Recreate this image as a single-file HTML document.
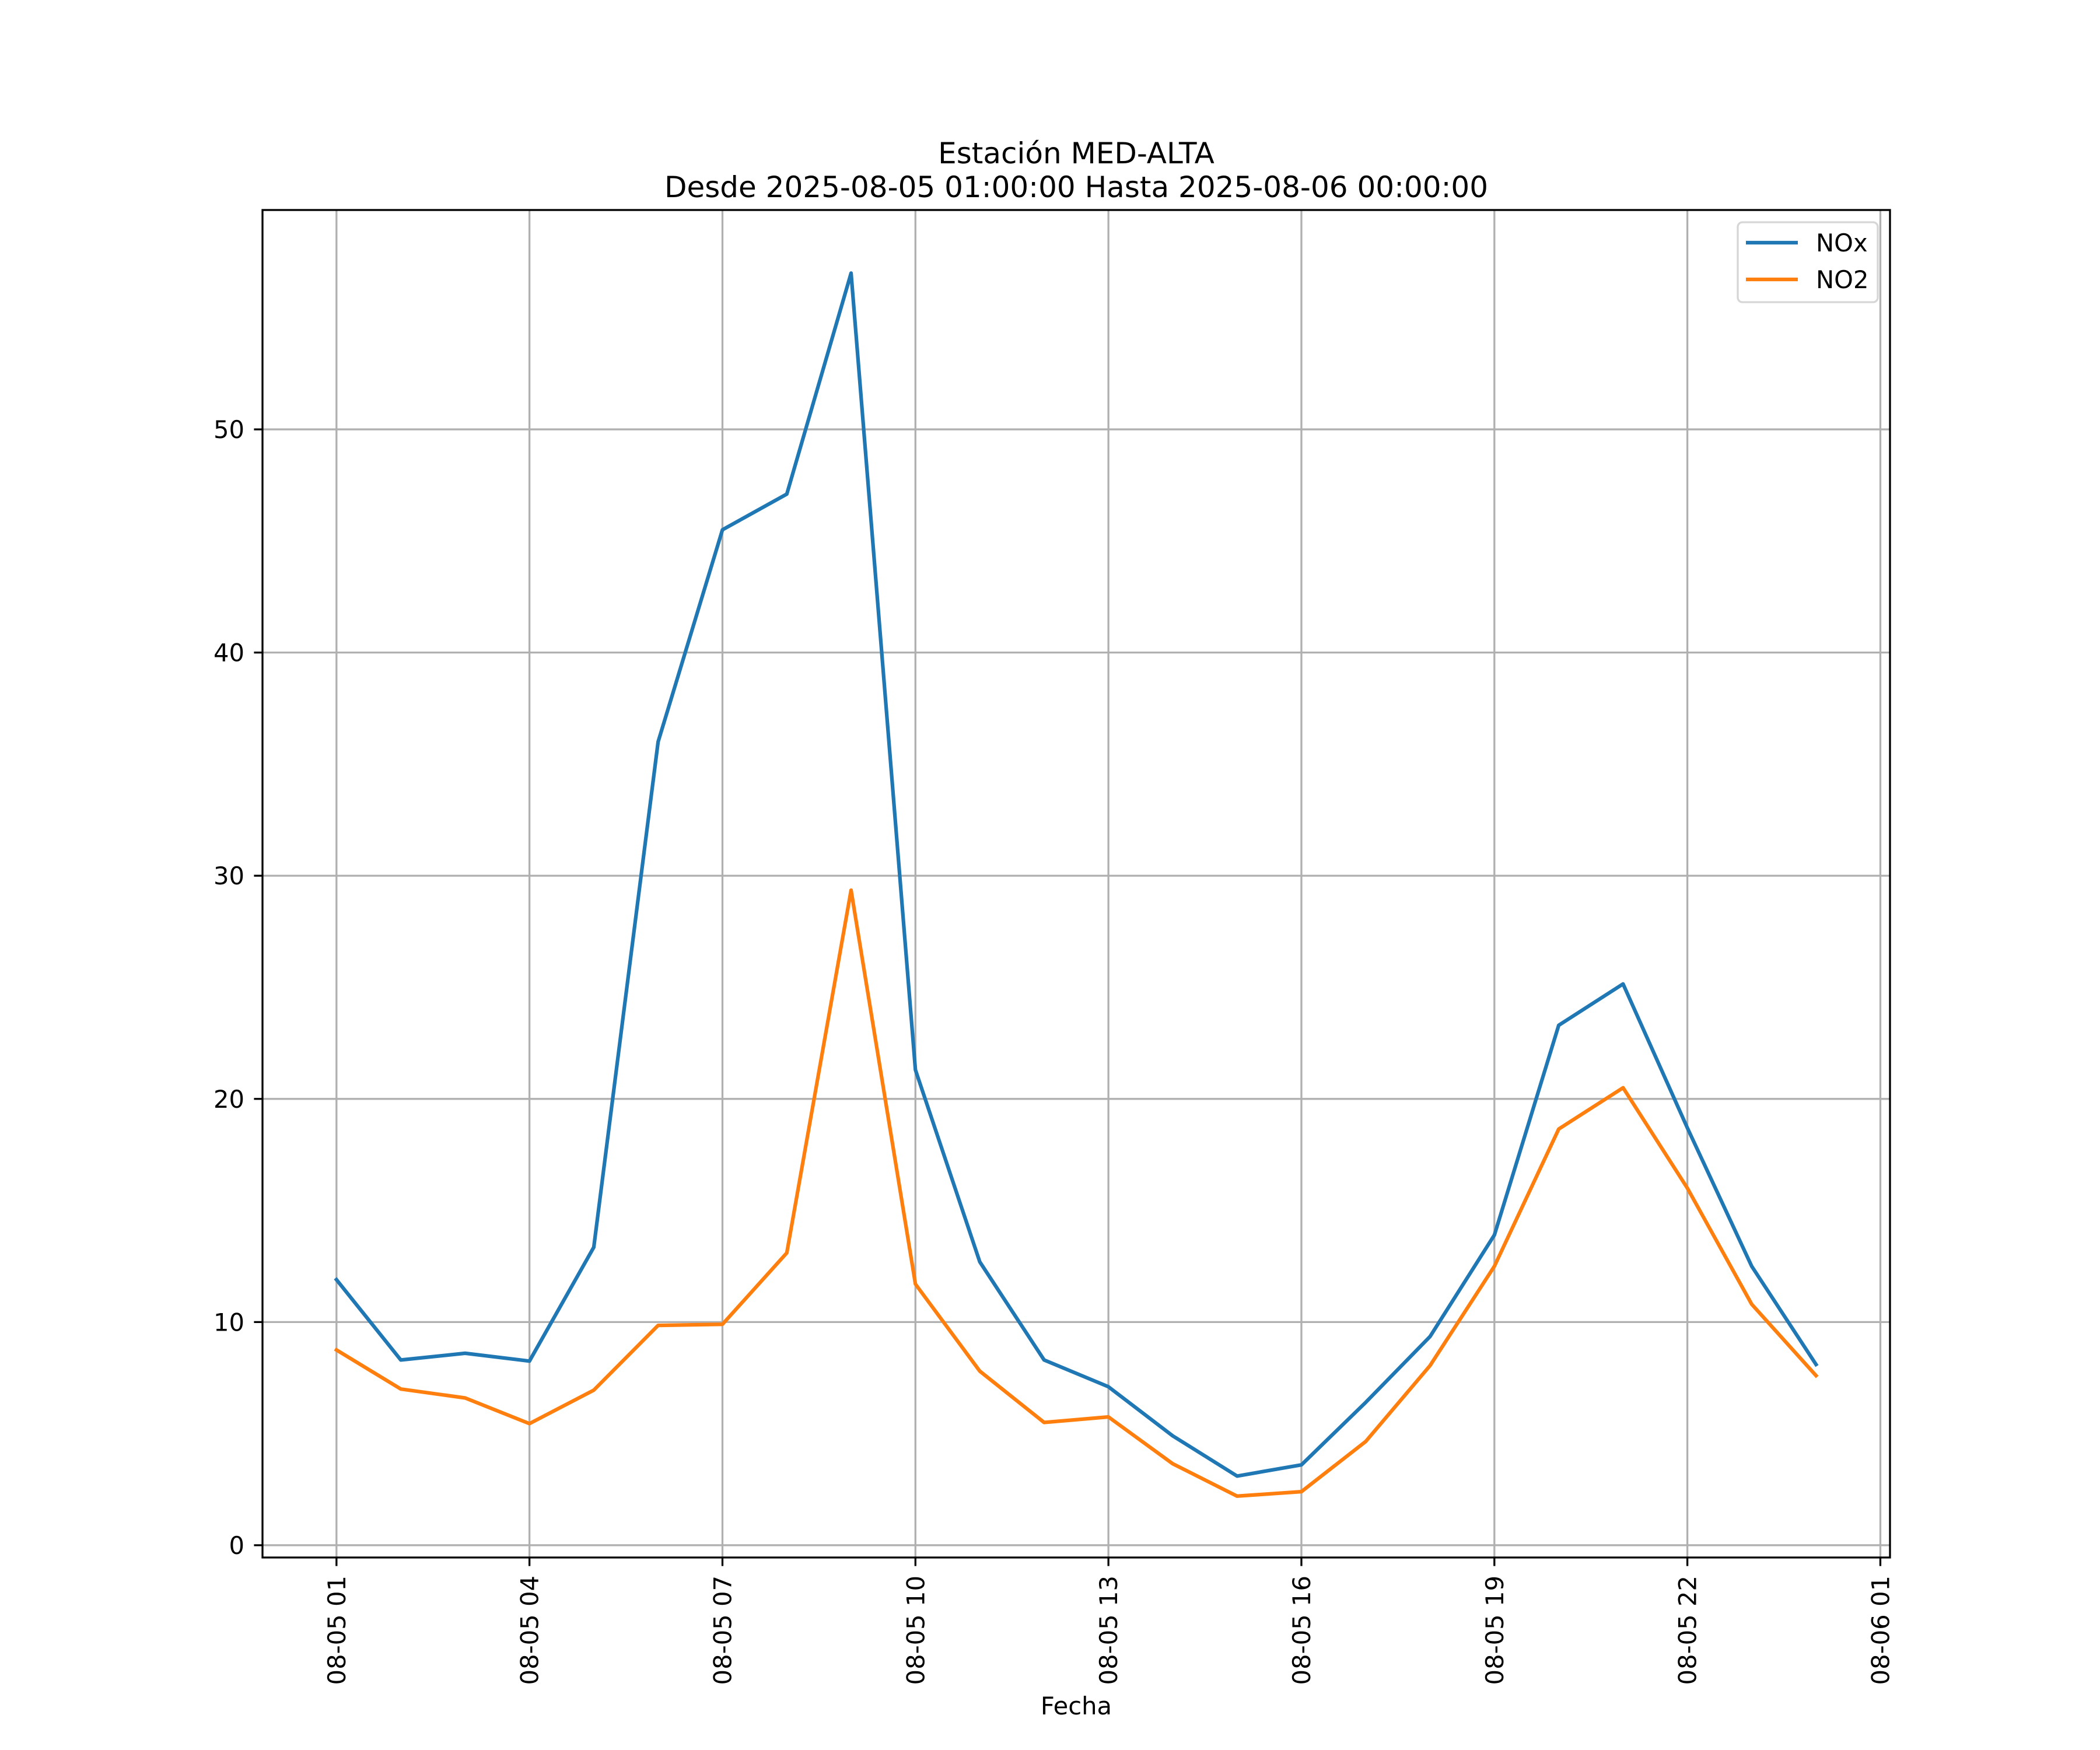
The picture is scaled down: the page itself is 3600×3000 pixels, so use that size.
<!DOCTYPE html>
<html><head><meta charset="utf-8"><style>
html,body{margin:0;padding:0;background:#fff}
svg{display:block}
text{font-family:"DejaVu Sans","Liberation Sans",sans-serif;fill:#000}
</style></head><body>
<svg id="chart" width="3600" height="3000" viewBox="0 0 3600 3000" xmlns="http://www.w3.org/2000/svg">
<rect x="0" y="0" width="3600" height="3000" fill="#fff"/>
<text x="1845" y="280" font-size="50" text-anchor="middle">Estación MED-ALTA</text>
<text x="1845" y="338" font-size="50" text-anchor="middle">Desde 2025-08-05 01:00:00 Hasta 2025-08-06 00:00:00</text>
<g id="grid"></g>
<g id="series"></g>
<rect x="450" y="360" width="2790" height="2310" fill="none" stroke="#000" stroke-width="3.3"/>
<g id="ticks"></g>
<text x="1845" y="2939" font-size="41.7" text-anchor="middle">Fecha</text>
<g>
<rect x="2979" y="381" width="240" height="137" rx="8" fill="#fff" fill-opacity="0.8" stroke="#d6d6d6" stroke-width="3.3"/>
<line x1="2993" y1="416" x2="3082" y2="416" stroke="#1f77b4" stroke-width="6.25"/>
<text x="3113" y="431" font-size="41.7">NOx</text>
<line x1="2993" y1="479" x2="3082" y2="479" stroke="#ff7f0e" stroke-width="6.25"/>
<text x="3113" y="494" font-size="41.7">NO2</text>
</g>
</svg>
<script>
const hours = [1,2,3,4,5,6,7,8,9,10,11,12,13,14,15,16,17,18,19,20,21,22,23,24];
const noxValues = [11.9,8.3,8.6,8.25,13.35,36.0,45.5,47.1,57.0,21.3,12.7,8.3,7.1,4.9,3.1,3.6,6.4,9.35,13.9,23.3,25.15,18.7,12.5,8.1];
const no2Values = [8.75,7.0,6.6,5.45,6.95,9.85,9.9,13.1,29.35,11.7,7.8,5.5,5.75,3.65,2.2,2.4,4.65,8.05,12.5,18.65,20.5,16.0,10.8,7.6];
const xTickHours = [1,4,7,10,13,16,19,22,25];
const xTickLabels = ["08-05 01","08-05 04","08-05 07","08-05 10","08-05 13","08-05 16","08-05 19","08-05 22","08-06 01"];
const yTickValues = [0,10,20,30,40,50];

const NS = "http://www.w3.org/2000/svg";
const L=450,R=3240,T=360,B=2670;
const xMin=-0.15, xMax=25.15, yMin=-0.55, yMax=59.83;
function xs(h){return L+(h-xMin)/(xMax-xMin)*(R-L);}
function ys(v){return B-(v-yMin)/(yMax-yMin)*(B-T);}
function mk(tag,attrs,parent){const e=document.createElementNS(NS,tag);for(const k in attrs)e.setAttribute(k,attrs[k]);parent.appendChild(e);return e;}
const grid=document.getElementById('grid'), ticks=document.getElementById('ticks'), series=document.getElementById('series');
xTickHours.forEach((h,i)=>{
  const x=xs(h);
  const g=mk('line',{x1:x,y1:T,x2:x,y2:B,stroke:'#b0b0b0','stroke-width':3.3},grid);
  
  
  const t=mk('line',{x1:x,y1:B,x2:x,y2:B+14.6,stroke:'#000','stroke-width':3.3},ticks);
  
  
  const lb=mk('text',{x:0,y:0,'font-size':41.7,'text-anchor':'end',transform:`translate(${x+15},${B+31}) rotate(-90)`},ticks);
  lb.textContent=xTickLabels[i];
  
  
});
yTickValues.forEach(v=>{
  const y=ys(v);
  const g=mk('line',{x1:L,y1:y,x2:R,y2:y,stroke:'#b0b0b0','stroke-width':3.3},grid);
  
  
  const t=mk('line',{x1:L-14.6,y1:y,x2:L,y2:y,stroke:'#000','stroke-width':3.3},ticks);
  
  
  const lb=mk('text',{x:419,y:y+15,'font-size':41.7,'text-anchor':'end'},ticks);
  lb.textContent=String(v);
  
  
});
function drawLine(vals,color,name){
  const pts=vals.map((v,i)=>xs(hours[i]).toFixed(1)+','+ys(v).toFixed(1)).join(' ');
  const p=mk('polyline',{points:pts,fill:'none',stroke:color,'stroke-width':6.25,'stroke-linejoin':'round','stroke-linecap':'square'},series);
  
  
}
drawLine(noxValues,'#1f77b4','nox-line');
drawLine(no2Values,'#ff7f0e','no2-line');
</script>
</body></html>
